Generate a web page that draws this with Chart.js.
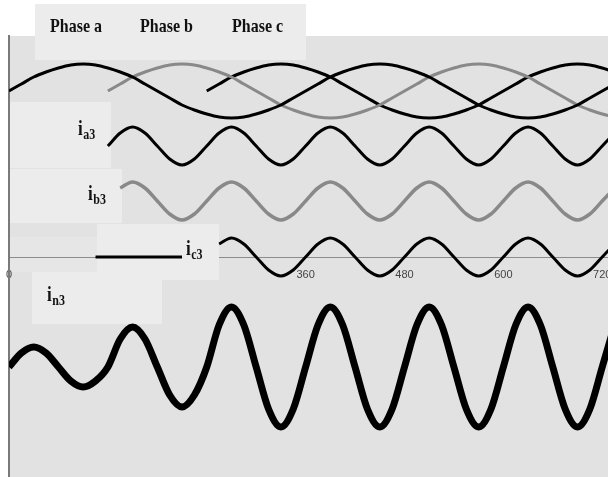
<!DOCTYPE html>
<html>
<head>
<meta charset="utf-8">
<script src="https://cdn.jsdelivr.net/npm/chart.js@4"></script>
<style>
  html, body { margin: 0; padding: 0; background: #fff; }
  #wrap { width: 608px; height: 477px; }
</style>
</head>
<body>
<div id="wrap"><canvas id="waves" width="608" height="477"></canvas></div>
<script>
// angle in degrees, one sample every 15 deg
const angles = [0,15,30,45,60,75,90,105,120,135,150,165,180,195,210,225,240,255,270,285,300,315,330,345,
                360,375,390,405,420,435,450,465,480,495,510,525,540,555,570,585,600,615,630,645,660,675,690,705,720,735];

const xTicks = [0, 120, 240, 360, 480, 600, 720];

// fundamental currents (upper band)
const phaseA = [166,173,180,185,189,192,193,192,189,185,180,173,166,159,152,147,143,140,139,140,143,147,152,159,
                166,173,180,185,189,192,193,192,189,185,180,173,166,159,152,147,143,140,139,140,143,147,152,159,
                166,173];
const phaseB = [null,null,null,null,null,null,null,null,
                166,173,180,185,189,192,193,192,189,185,180,173,166,159,152,147,143,140,139,140,143,147,152,159,
                166,173,180,185,189,192,193,192,189,185,180,173,166,159,152,147,143,140];
const phaseC = [null,null,null,null,null,null,null,null,null,null,null,null,null,null,null,null,
                166,173,180,185,189,192,193,192,189,185,180,173,166,159,152,147,143,140,139,140,143,147,152,159,
                166,173,180,185,189,192,193,192,189,185];

// third harmonics
const ia3 = [null,null,null,null,null,null,null,null,
             111,124,130,124,111,98,92,98, 111,124,130,124,111,98,92,98, 111,124,130,124,111,98,92,98,
             111,124,130,124,111,98,92,98, 111,124,130,124,111,98,92,98, 111,124];
const ib3 = [null,null,null,null,null,null,null,null,null,
             69,75,69,56,43,37,43, 56,69,75,69,56,43,37,43, 56,69,75,69,56,43,37,43,
             56,69,75,69,56,43,37,43, 56,69,75,69,56,43,37,43, 56,69];
const ic3 = [null,null,null,null,null,null,null,
             0,0,0,0,0,0,0,0, null,null,
             13,19,13,0,-13,-19,-13, 0,13,19,13,0,-13,-19,-13, 0,13,19,13,0,-13,-19,-13,
             0,13,19,13,0,-13,-19,-13, 0,13];
const in3 = [-110,-96,-90,-96,-110,-124,-130,-124,
             -110,-82,-70,-82,-110,-138,-150,-138,
             -110,-68,-50,-68,-110,-152,-170,-152, -110,-68,-50,-68,-110,-152,-170,-152,
             -110,-68,-50,-68,-110,-152,-170,-152, -110,-68,-50,-68,-110,-152,-170,-152,
             -110,-68];

const BLACK = '#000000';
const GREY = '#898989';

function stretchedText(ctx, text, x, y, px) {
  ctx.save();
  ctx.translate(x, y);
  ctx.scale(1, 1.2);
  ctx.font = 'bold ' + px + 'px "Liberation Serif", serif';
  ctx.fillText(text, 0, 0);
  const w = ctx.measureText(text).width;
  ctx.restore();
  return w;
}

function currentLabel(ctx, x, y, sub) {
  const w = stretchedText(ctx, 'i', x, y, 17);
  stretchedText(ctx, sub, x + w + 0.5, y + 4, 12);
}

/* panels behind the curves, like the text boxes of the original figure */
const panels = {
  id: 'panels',
  beforeDraw(chart) {
    const { ctx, chartArea: a } = chart;
    ctx.save();
    ctx.fillStyle = '#e2e2e2';
    ctx.fillRect(a.left, a.top, a.right - a.left, a.bottom - a.top);
    ctx.fillStyle = '#e6e6e6';
    ctx.fillRect(10, 237, 87, 35);
    ctx.restore();
  },
  beforeDatasetsDraw(chart) {
    const ctx = chart.ctx;
    ctx.save();
    ctx.fillStyle = '#ececec';
    ctx.fillRect(35, 4, 271, 56);
    ctx.fillRect(10, 102, 101, 66);
    ctx.fillRect(10, 169, 112, 54);
    ctx.fillRect(97, 224, 122, 56);
    ctx.fillRect(32, 272, 130, 52);

    ctx.fillStyle = '#111';
    ctx.textBaseline = 'alphabetic';
    stretchedText(ctx, 'Phase a', 50, 32, 16);
    stretchedText(ctx, 'Phase b', 140, 32, 16);
    stretchedText(ctx, 'Phase c', 232, 32, 16);

    currentLabel(ctx, 78, 135, 'a3');
    currentLabel(ctx, 88, 200, 'b3');
    currentLabel(ctx, 186, 255, 'c3');
    currentLabel(ctx, 47, 301, 'n3');
    ctx.restore();
  }
};

function line(data, color, width) {
  return {
    data: data,
    borderColor: color,
    borderWidth: width,
    pointRadius: 0,
    fill: false,
    cubicInterpolationMode: 'monotone',
    spanGaps: false
  };
}

new Chart(document.getElementById('waves').getContext('2d'), {
  type: 'line',
  data: {
    labels: angles,
    datasets: [
      line(phaseA, BLACK, 3),
      line(phaseB, GREY, 3),
      line(phaseC, BLACK, 3),
      line(ia3, BLACK, 3),
      line(ib3, GREY, 3.5),
      line(ic3, BLACK, 3),
      line(in3, BLACK, 7)
    ]
  },
  options: {
    responsive: false,
    animation: false,
    layout: { padding: { top: 36, left: 9, right: 0, bottom: 0 } },
    plugins: {
      legend: { display: false },
      tooltip: { enabled: false }
    },
    scales: {
      x: {
        type: 'linear',
        min: 0,
        max: 727,
        position: { y: 0 },
        grid: { display: false, drawTicks: false },
        border: { display: true, color: '#8c8c8c', width: 1 },
        afterBuildTicks(axis) {
          axis.ticks = xTicks.map(v => ({ value: v }));
        },
        afterFit(axis) {
          axis.paddingLeft = 0;
          axis.paddingRight = 0;
        },
        ticks: {
          includeBounds: false,
          autoSkip: false,
          maxRotation: 0,
          padding: 11,
          color: '#444',
          font: { family: '"Liberation Sans", Arial, sans-serif', size: 11 }
        }
      },
      y: {
        type: 'linear',
        min: -220,
        max: 221,
        position: 'left',
        grid: { display: false, drawTicks: false },
        border: { display: true, color: '#7a7a7a', width: 2 },
        ticks: { display: false }
      }
    }
  },
  plugins: [panels]
});
</script>
</body>
</html>
